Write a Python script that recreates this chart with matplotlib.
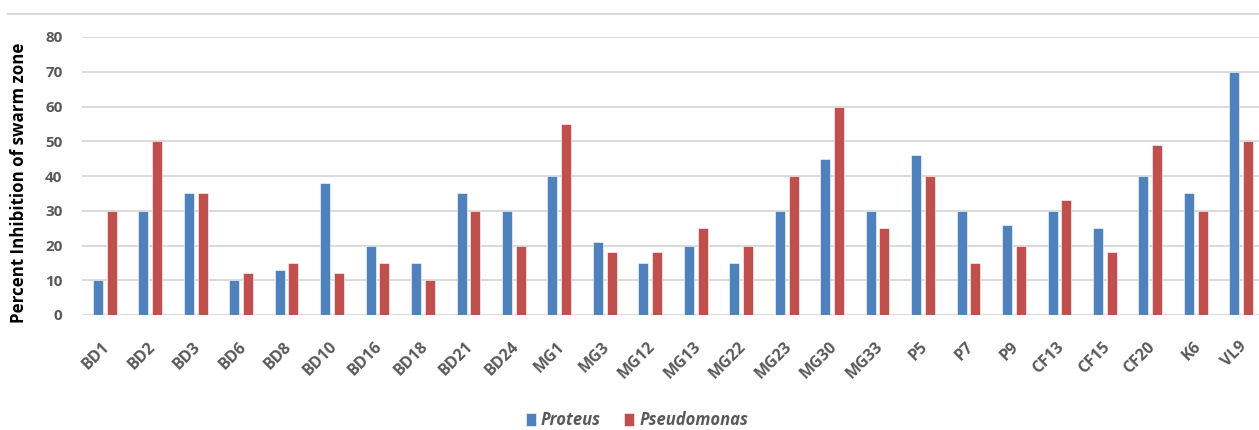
import matplotlib
matplotlib.use("Agg")
import matplotlib.pyplot as plt
import matplotlib.transforms as mtransforms
from matplotlib.lines import Line2D
import numpy as np

categories = ["BD1", "BD2", "BD3", "BD6", "BD8", "BD10", "BD16", "BD18", "BD21", "BD24",
              "MG1", "MG3", "MG12", "MG13", "MG22", "MG23", "MG30", "MG33", "P5", "P7",
              "P9", "CF13", "CF15", "CF20", "K6", "VL9"]
proteus = [10, 30, 35, 10, 13, 38, 20, 15, 35, 30,
           40, 21, 15, 20, 15, 30, 45, 30, 46, 30,
           26, 30, 25, 40, 35, 70]
pseudomonas = [30, 50, 35, 12, 15, 12, 15, 10, 30, 20,
               55, 18, 18, 25, 20, 40, 60, 25, 40, 15,
               20, 33, 18, 49, 30, 50]
yticks = [0, 10, 20, 30, 40, 50, 60, 70, 80]

plt.rcParams['font.family'] = ['Open Sans', 'DejaVu Sans']

W, H = 1259, 430
fig = plt.figure(figsize=(W / 100, H / 100), dpi=100)
ax = fig.add_axes([82 / W, 1 - 315 / H, (1264 - 82) / W, (315 - 37) / H])

x = np.arange(len(categories))
bw = 0.22
off = 0.152
blue = "#4F81BD"
red = "#C0504D"
ax.bar(x - off, proteus, bw, color=blue, edgecolor="white", linewidth=0.4, zorder=3, label="Proteus")
ax.bar(x + off, pseudomonas, bw, color=red, edgecolor="white", linewidth=0.4, zorder=3, label="Pseudomonas")

ax.set_xlim(-0.5, len(categories) - 0.5)
ax.set_ylim(0, 80)
ax.set_yticks(yticks)
ax.set_yticklabels([str(t) for t in yticks], fontsize=11, fontweight="bold", color="#595959")
ax.yaxis.grid(True, color="#d9d9d9", linewidth=1.4, zorder=0)
ax.set_axisbelow(True)
for s in ax.spines.values():
    s.set_visible(False)
ax.tick_params(axis="both", length=0)
ax.tick_params(axis="y", pad=14)

ax.set_xticks(x)
ax.set_xticklabels(categories, rotation=45, ha="right", va="top", rotation_mode="anchor",
                   fontsize=11.5, fontweight="bold", color="#595959")
shift = mtransforms.ScaledTranslation(-3 / 100, -19 / 100, fig.dpi_scale_trans)
for lbl in ax.get_xticklabels():
    lbl.set_transform(lbl.get_transform() + shift)

fig.text(19 / W, 1 - 183 / H, "Percent Inhibition of swarm zone", rotation=90,
         ha="center", va="center", fontsize=12.2, fontweight="bold", color="black")

# top border line
fig.add_artist(Line2D([8 / W, 1.0], [1 - 14 / H, 1 - 14 / H], color="#d9d9d9", linewidth=1.4,
                      transform=fig.transFigure))

leg = fig.legend(handles=ax.get_legend_handles_labels()[0], labels=["Proteus", "Pseudomonas"],
                 loc="center", bbox_to_anchor=(637 / W, 1 - 420 / H), ncol=2, frameon=False,
                 handlelength=0.6, handleheight=0.8, handletextpad=0.3, columnspacing=1.4,
                 prop={"size": 12, "weight": "bold", "style": "italic"})
for t in leg.get_texts():
    t.set_color("#595959")

fig.savefig("out.png", dpi=100)
